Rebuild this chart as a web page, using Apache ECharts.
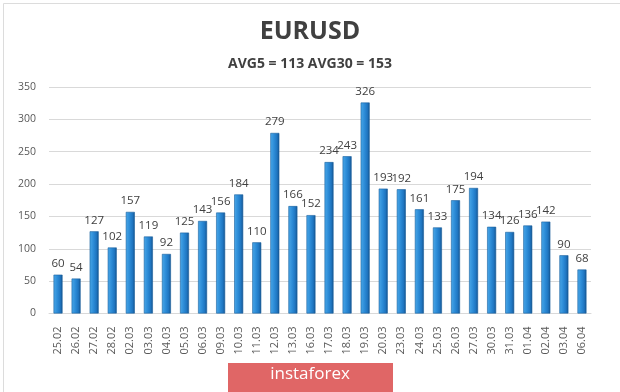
<!DOCTYPE html>
<html>
<head>
<meta charset="utf-8">
<script src="https://cdn.jsdelivr.net/npm/echarts@6/dist/echarts.min.js"></script>
<style>
html,body{margin:0;padding:0;background:#fff;}
#c{width:620px;height:392px;}
</style>
</head>
<body>
<div id="c"></div>
<script>
var titleText = 'EURUSD';
var subtitleText = 'AVG5 = 113 AVG30 = 153';
var categories = ['25.02','26.02','27.02','28.02','02.03','03.03','04.03','05.03','06.03','09.03','10.03','11.03','12.03','13.03','16.03','17.03','18.03','19.03','20.03','23.03','24.03','25.03','26.03','27.03','30.03','31.03','01.04','02.04','03.04','06.04'];
var values = [60,54,127,102,157,119,92,125,143,156,184,110,279,166,152,234,243,326,193,192,161,133,175,194,134,126,136,142,90,68];
var yTicks = [0,50,100,150,200,250,300,350];
var watermarkText = 'instaforex';

var chart = echarts.init(document.getElementById('c'), null, {renderer:'canvas'});
var font = '"Open Sans", "Noto Sans", sans-serif';
chart.setOption({
  backgroundColor:'#ffffff',
  animation:false,
  title:[
    {text:titleText, left:'center', top:14, textStyle:{fontFamily:font, fontSize:25, fontWeight:'bold', color:'#404040'}},
    {text:subtitleText, left:'center', top:52, textStyle:{fontFamily:font, fontSize:14, fontWeight:'bold', color:'#404040'}}
  ],
  grid:{left:49, top:87, width:542, height:226.5, containLabel:false},
  xAxis:{
    type:'category', data:categories,
    axisLine:{show:true, lineStyle:{color:'#d9d9d9', width:1}},
    axisTick:{show:false},
    axisLabel:{rotate:90, interval:0, margin:13, color:'#595959', fontSize:11, fontFamily:font}
  },
  yAxis:{
    type:'value', min:yTicks[0], max:yTicks[yTicks.length-1], interval:50,
    axisLine:{show:false}, axisTick:{show:false},
    axisLabel:{color:'#595959', fontSize:10.5, fontFamily:font, margin:13},
    splitLine:{lineStyle:{color:'#d9d9d9', width:1}}
  },
  series:[{
    type:'bar', data:values, barWidth:9,
    itemStyle:{
      color:new echarts.graphic.LinearGradient(0,0,1,0,[
        {offset:0, color:'#4aa8e8'},
        {offset:0.45, color:'#2b8ad6'},
        {offset:0.75, color:'#1f75c0'},
        {offset:1, color:'#14528c'}
      ]),
      borderColor:'#1a5f9e', borderWidth:0.6
    },
    label:{show:true, position:'top', distance:5, color:'#404040', fontSize:11.5, fontFamily:font}
  }],
  graphic:[
    {type:'rect', left:1, top:1, shape:{width:617, height:389}, style:{fill:'none', stroke:'#dcdcdc', lineWidth:1}, silent:true, z:100},
    {type:'rect', left:228, top:363, shape:{width:165, height:30}, style:{fill:'#e06666'}, z:100},
    {type:'text', left:'center', top:366, style:{text:watermarkText, fill:'#ffffff', font:'17px ' + font}, z:101}
  ]
});
</script>
</body>
</html>
